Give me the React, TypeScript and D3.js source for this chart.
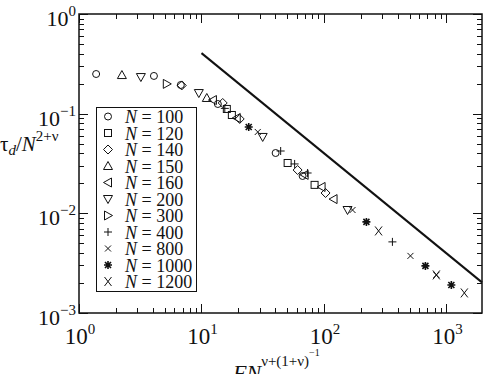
import React from 'react';
import * as d3 from 'd3';

const W = 483;
const H = 374;

// series: [x, y]
const n100 = [[1.38, 0.25], [4.09, 0.239], [6.78, 0.194], [13.6, 0.125], [40.3, 0.0403], [66.9, 0.0237]];
const n120 = [[16.1, 0.1115], [17.7, 0.097], [50.5, 0.032], [83.8, 0.0193]];
const n140 = [[6.9, 0.192], [14.9, 0.128], [20.5, 0.0885], [60.9, 0.0272], [103, 0.016]];
const n150 = [[2.24, 0.244], [11.05, 0.1437]];
const n160 = [[12.4, 0.137], [19.4, 0.0905], [69.5, 0.0243], [95.6, 0.0184], [119.7, 0.0139]];
const n200 = [[3.2, 0.233], [9.51, 0.161], [31.6, 0.0584], [155.7, 0.0108]];
const n300 = [[5.21, 0.199]];
const n400 = [[15.5, 0.113], [44.3, 0.0422], [57.6, 0.0313], [73.5, 0.0254], [362, 0.00517]];
const n800 = [[28.8, 0.0655], [171, 0.0108], [508, 0.00374], [827, 0.00241]];
const n1000 = [[24.3, 0.0735], [222, 0.0082], [673, 0.00297], [1096, 0.00191]];
const n1200 = [[279, 0.00666], [827, 0.00241], [1399, 0.00159]];

const legendN = [100, 120, 140, 150, 160, 200, 300, 400, 800, 1000, 1200];
const markerNames = ['circle', 'square', 'diamond', 'triUp', 'triLeft', 'triDown', 'triRight', 'plus', 'cross', 'star', 'bigX'];
const seriesData = [n100, n120, n140, n150, n160, n200, n300, n400, n800, n1000, n1200];

// power-law guide line
const guideLine = [[10, 0.405], [1950, 0.00203]];

const xTickLabels = ['0', '1', '2', '3'];
const yTickLabels = ['0', '-1', '-2', '-3'];

const plot = { left: 79, right: 482, top: 14, bottom: 313 };
const serif = 'Liberation Serif, Times New Roman, serif';

function Marker({ kind, x, y }) {
  const s = { fill: 'none', stroke: '#111', strokeWidth: 1 };
  switch (kind) {
    case 'circle':
      return <circle cx={x} cy={y} r={3.5} {...s} />;
    case 'square':
      return <rect x={x - 3.5} y={y - 3.5} width={7} height={7} {...s} />;
    case 'diamond':
      return <path d={`M${x},${y - 4.5}L${x + 4.5},${y}L${x},${y + 4.5}L${x - 4.5},${y}Z`} {...s} />;
    case 'triUp':
      return <path d={`M${x},${y - 4.5}L${x + 4.5},${y + 3.5}L${x - 4.5},${y + 3.5}Z`} {...s} />;
    case 'triDown':
      return <path d={`M${x},${y + 4.5}L${x + 4.5},${y - 3.5}L${x - 4.5},${y - 3.5}Z`} {...s} />;
    case 'triLeft':
      return <path d={`M${x - 4.5},${y}L${x + 3.5},${y - 4.5}L${x + 3.5},${y + 4.5}Z`} {...s} />;
    case 'triRight':
      return <path d={`M${x + 4.5},${y}L${x - 3.5},${y - 4.5}L${x - 3.5},${y + 4.5}Z`} {...s} />;
    case 'plus':
      return <path d={`M${x - 4},${y}H${x + 4}M${x},${y - 4}V${y + 4}`} {...s} />;
    case 'cross':
      return <path d={`M${x - 3},${y - 3}L${x + 3},${y + 3}M${x - 3},${y + 3}L${x + 3},${y - 3}`} {...s} />;
    case 'star':
      return (
        <path
          d={`M${x - 4},${y}H${x + 4}M${x},${y - 4}V${y + 4}M${x - 3},${y - 3}L${x + 3},${y + 3}M${x - 3},${y + 3}L${x + 3},${y - 3}`}
          {...s}
          strokeWidth={1.6}
        />
      );
    case 'bigX':
      return <path d={`M${x - 3.5},${y - 4.5}L${x + 3.5},${y + 4.5}M${x - 3.5},${y + 4.5}L${x + 3.5},${y - 4.5}`} {...s} />;
    default:
      return null;
  }
}

export default function App() {
  const x = d3.scaleLog().domain([1, 1950]).range([plot.left, plot.right]);
  const y = d3.scaleLog().domain([0.001, 1]).range([plot.bottom, plot.top]);

  const xTicks = x.ticks();
  const yTicks = y.ticks();
  const isMajor = (v) => Math.abs(Math.log10(v) - Math.round(Math.log10(v))) < 1e-9;

  const lineGen = d3.line().x((d) => x(d[0])).y((d) => y(d[1]));

  return (
    <svg width={W} height={H} style={{ position: 'absolute', left: 0, top: 0, background: '#fff' }}>
      <rect x={0} y={0} width={W} height={H} fill="#fff" />

      {/* ticks */}
      <g stroke="#111" strokeWidth={1}>
        {xTicks.map((t, i) => {
          const len = isMajor(t) ? 9 : 5;
          const px = Math.round(x(t)) + 0.5;
          return (
            <g key={'xt' + i}>
              <line x1={px} x2={px} y1={plot.bottom} y2={plot.bottom - len} />
              <line x1={px} x2={px} y1={plot.top} y2={plot.top + len} />
            </g>
          );
        })}
        {yTicks.map((t, i) => {
          const len = isMajor(t) ? 9 : 5;
          const py = Math.round(y(t)) + 0.5;
          return (
            <g key={'yt' + i}>
              <line x1={plot.left} x2={plot.left + len} y1={py} y2={py} />
              <line x1={plot.right} x2={plot.right - len} y1={py} y2={py} />
            </g>
          );
        })}
      </g>

      <rect
        x={plot.left}
        y={plot.top}
        width={plot.right - plot.left}
        height={plot.bottom - plot.top}
        fill="none"
        stroke="#111"
        strokeWidth={1.5}
      />

      {/* tick labels */}
      <g fontFamily={serif} fill="#111">
        {xTickLabels.map((e, i) => (
          <text key={'xl' + i} x={x(Math.pow(10, i)) + 1} y={344} fontSize={23} textAnchor="middle">
            10<tspan fontSize={15} dy={-10}>{e}</tspan>
          </text>
        ))}
        {yTickLabels.map((e, i) => (
          <text key={'yl' + i} x={76} y={y(Math.pow(10, -i)) + 12} fontSize={22} textAnchor="end">
            10<tspan fontSize={15} dy={-10}>{e.replace('-', '\u2212')}</tspan>
          </text>
        ))}
      </g>

      {/* guide line */}
      <path d={lineGen(guideLine)} fill="none" stroke="#111" strokeWidth={2} />

      {/* data */}
      {seriesData.map((pts, si) =>
        pts.map((p, pi) => <Marker key={si + '-' + pi} kind={markerNames[si]} x={x(p[0])} y={y(p[1])} />)
      )}

      {/* legend */}
      <rect x={96.5} y={107.5} width={100} height={184} fill="#fff" stroke="#111" strokeWidth={1} />
      {legendN.map((n, i) => {
        const cy = 116.5 + i * 16.5;
        return (
          <g key={'lg' + n}>
            <Marker kind={markerNames[i]} x={108} y={cy} />
            <text x={125} y={cy + 6.5} fontFamily={serif} fontSize={18} fill="#111">
              <tspan fontStyle="italic">N</tspan> = {n}
            </text>
          </g>
        );
      })}

      {/* axis titles */}
      <text x={0} y={151} fontFamily={serif} fontSize={21} fill="#111">
        τ<tspan fontStyle="italic" fontSize={15} dy={4}>d</tspan>
        <tspan dy={-4}>/</tspan>
        <tspan fontStyle="italic">N</tspan>
        <tspan fontSize={15} dy={-10}>2+ν</tspan>
      </text>
      <text x={233} y={380} fontFamily={serif} fontSize={22} fill="#111">
        <tspan fontStyle="italic">FN</tspan>
        <tspan fontSize={15} dy={-14}>ν+(1+ν)</tspan>
        <tspan fontSize={10} dy={-10}>−1</tspan>
      </text>
    </svg>
  );
}
